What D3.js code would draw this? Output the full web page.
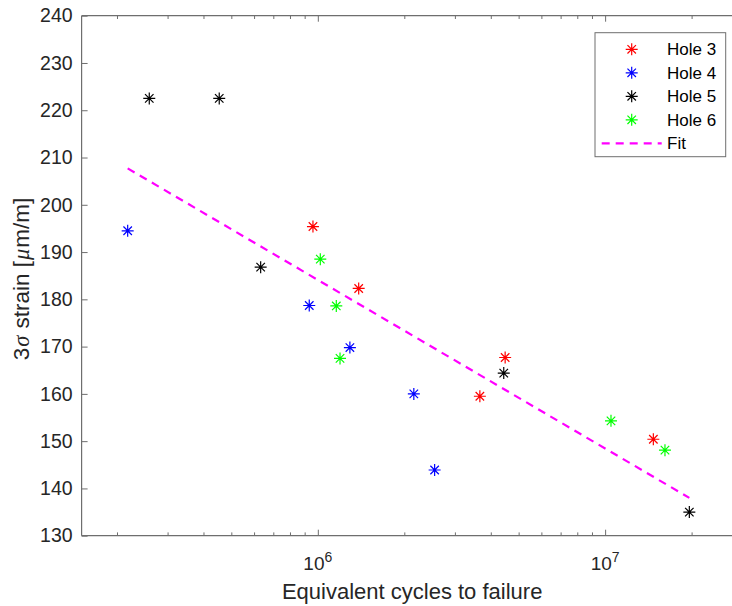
<!DOCTYPE html>
<html><head><meta charset="utf-8">
<script src="https://cdn.jsdelivr.net/npm/d3@7"></script>
<style>body{margin:0;background:#fff}svg{display:block;font-family:"Liberation Sans",Arial,sans-serif}</style>
</head><body><svg id="c" width="732" height="606"></svg>
<script>
const seriesNames = ["Hole 3","Hole 4","Hole 5","Hole 6"];
const seriesColors = ["#ff0000","#0000ff","#000000","#00ff00"];
const hole3X = [9.58e5, 1.382e6, 3.65e6, 4.47e6, 1.466e7];
const hole3Y = [195.4, 182.3, 159.5, 167.7, 150.4];
const hole4X = [2.17e5, 9.3e5, 1.288e6, 2.15e6, 2.54e6];
const hole4Y = [194.5, 178.7, 169.8, 160.0, 143.9];
const hole5X = [2.58e5, 4.52e5, 6.30e5, 4.42e6, 1.956e7];
const hole5Y = [222.5, 222.5, 186.8, 164.4, 135.0];
const hole6X = [1.016e6, 1.155e6, 1.19e6, 1.044e7, 1.609e7];
const hole6Y = [188.5, 178.6, 167.5, 154.3, 148.1];
const fitX = [2.17e5, 1.956e7];
const fitY = [207.7, 138.0];
const yTicks = [130,140,150,160,170,180,190,200,210,220,230,240];
const xMajorTicks = [1e6, 1e7];
const xMinorTicks = [2e5,3e5,4e5,5e5,6e5,7e5,8e5,9e5,2e6,3e6,4e6,5e6,6e6,7e6,8e6,9e6,2e7,3e7];
const xLabel = "Equivalent cycles to failure";

const seriesX = [hole3X, hole4X, hole5X, hole6X];
const seriesY = [hole3Y, hole4Y, hole5Y, hole6Y];

const svg = d3.select("#c");
const L = 81.6, R = 742.7, T = 15.7, B = 535.7;
const x = d3.scaleLog().domain([1.5e5, 3e7]).range([L, R]);
const y = d3.scaleLinear().domain([130, 240]).range([B, T]);
const axisColor = "#6e6e6e", textColor = "#262626";

// axes box lines
svg.append("line").attr("x1",L).attr("x2",R).attr("y1",B).attr("y2",B).attr("stroke",axisColor).attr("stroke-width",1.2);
svg.append("line").attr("x1",L).attr("x2",R).attr("y1",T).attr("y2",T).attr("stroke",axisColor).attr("stroke-width",1.2);
svg.append("line").attr("x1",L).attr("x2",L).attr("y1",T).attr("y2",B).attr("stroke",axisColor).attr("stroke-width",1.2);

// y ticks
const yAxis = d3.axisLeft(y).tickValues(yTicks).tickSizeInner(-6).tickSizeOuter(0).tickPadding(9);
const gy = svg.append("g").attr("transform",`translate(${L},0)`).call(yAxis);
gy.select(".domain").remove();
gy.selectAll(".tick line").attr("stroke",axisColor);
gy.selectAll(".tick text").attr("fill",textColor).attr("font-size",19.5).attr("font-family","Liberation Sans, Arial, sans-serif");

// x ticks bottom/top
function xTicks(yy, dir){
  svg.append("g").selectAll("line.maj").data(xMajorTicks).join("line")
    .attr("x1",d=>x(d)).attr("x2",d=>x(d)).attr("y1",yy).attr("y2",yy+dir*6).attr("stroke",axisColor);
  svg.append("g").selectAll("line.min").data(xMinorTicks).join("line")
    .attr("x1",d=>x(d)).attr("x2",d=>x(d)).attr("y1",yy).attr("y2",yy+dir*3.3).attr("stroke",axisColor);
}
xTicks(B,-1); xTicks(T,1);

// x tick labels
const xl = svg.append("g").selectAll("text").data(xMajorTicks).join("text")
  .attr("x",d=>x(d)-0.5).attr("y",570).attr("text-anchor","middle").attr("fill",textColor).attr("font-size",19);
xl.append("tspan").text("10");
xl.append("tspan").attr("font-size",14).attr("dy",-8.5).text(d=>Math.round(Math.log10(d)));

// axis labels
svg.append("text").attr("x",(L+R)/2).attr("y",599).attr("text-anchor","middle").attr("fill",textColor).attr("font-size",22).text(xLabel);
const yl = svg.append("text").attr("transform",`translate(29,279) rotate(-90)`).attr("text-anchor","middle").attr("fill",textColor).attr("font-size",22.5);
yl.append("tspan").text("3");
yl.append("tspan").attr("font-style","italic").attr("font-family","Liberation Serif, serif").attr("dx",1).text("σ");
yl.append("tspan").attr("dx",1).text(" strain [");
yl.append("tspan").attr("font-style","italic").attr("font-family","Liberation Serif, serif").attr("dx",1).text("μ");
yl.append("tspan").attr("dx",1).text("m/m]");

// fit line
svg.append("path").attr("d", d3.line().x(d=>x(d[0])).y(d=>y(d[1]))(fitX.map((v,i)=>[v,fitY[i]])))
  .attr("stroke","#ff00ff").attr("stroke-width",2.2).attr("stroke-dasharray","8,6").attr("fill","none");

// asterisk marker
function asterisk(g, cx, cy, color, r){
  const a = r*0.7071;
  const p = `M${cx-r},${cy}H${cx+r}M${cx},${cy-r}V${cy+r}M${cx-a},${cy-a}L${cx+a},${cy+a}M${cx-a},${cy+a}L${cx+a},${cy-a}`;
  g.append("path").attr("d",p).attr("stroke",color).attr("stroke-width",1.2).attr("fill","none");
}
seriesNames.forEach((n,i)=>{
  const g = svg.append("g");
  seriesX[i].forEach((v,j)=> asterisk(g, x(v), y(seriesY[i][j]), seriesColors[i], 6));
});

// legend
const lg = svg.append("g");
lg.append("rect").attr("x",595).attr("y",32.7).attr("width",130.7).attr("height",124).attr("fill","#fff").attr("stroke",axisColor).attr("stroke-width",1);
seriesNames.forEach((n,i)=>{
  const yy = 49.3 + i*23.5;
  asterisk(lg, 631.7, yy, seriesColors[i], 6);
  lg.append("text").attr("x",667).attr("y",yy).attr("dy","0.35em").attr("font-size",17).attr("fill","#000").text(n);
});
const fy = 49.3 + 4*23.5;
lg.append("line").attr("x1",601.7).attr("x2",661.7).attr("y1",fy).attr("y2",fy).attr("stroke","#ff00ff").attr("stroke-width",2.2).attr("stroke-dasharray","8,6");
lg.append("text").attr("x",667).attr("y",fy).attr("dy","0.35em").attr("font-size",17).attr("fill","#000").text("Fit");
</script></body></html>
